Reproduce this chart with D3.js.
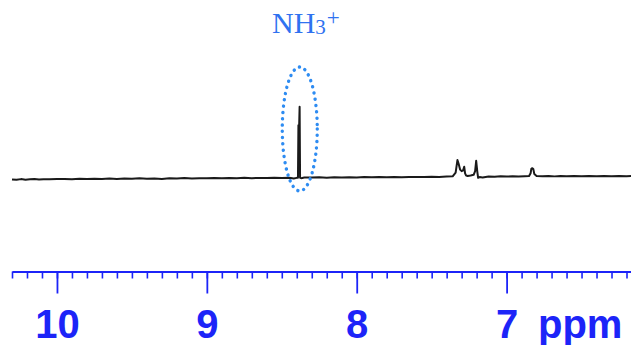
<!DOCTYPE html>
<html>
<head>
<meta charset="utf-8">
<script src="https://cdn.jsdelivr.net/npm/d3@7"></script>
<style>
  body { margin: 0; background: #fff; }
  svg { display: block; }
</style>
</head>
<body>
<div id="chart"></div>
<script>
// spectrum: [ppm, intensity]
const spectrum = [
  [10.30, 0.8], [10.27, 0.2], [10.24, 1.2], [10.21, 0.4], [10.18, 1.0], [10.15, 1.4],
  [10.12, 0.6], [10.09, 1.1], [10.05, 0.9], [10.00, 1.3], [9.95, 1.5], [9.90, 1.0],
  [9.85, 1.6], [9.80, 1.2], [9.75, 1.8], [9.70, 1.4], [9.65, 1.9], [9.60, 1.5],
  [9.55, 2.0], [9.50, 1.6], [9.45, 2.2], [9.40, 1.7], [9.35, 2.1], [9.30, 1.5],
  [9.25, 2.3], [9.20, 2.0], [9.15, 2.6], [9.10, 2.1], [9.05, 2.5], [9.00, 2.2],
  [8.95, 2.8], [8.90, 2.3], [8.85, 2.7], [8.80, 2.4], [8.75, 2.9], [8.70, 2.5],
  [8.65, 2.8], [8.60, 2.6], [8.55, 3.0], [8.50, 2.7], [8.45, 3.1], [8.42, 2.0],
  [8.40, 2.9], [8.392, 3.0], [8.389, 74], [8.384, 74], [8.381, 99], [8.378, 3.0],
  [8.37, 2.5], [8.35, 3.4], [8.30, 3.3], [8.25, 3.6], [8.20, 3.2], [8.15, 3.7],
  [8.10, 3.4], [8.05, 3.8], [8.00, 3.5], [7.95, 3.9], [7.90, 3.6], [7.85, 4.0],
  [7.80, 3.7], [7.75, 4.1], [7.70, 3.8], [7.65, 4.2], [7.60, 3.9], [7.55, 4.0],
  [7.50, 4.3], [7.45, 4.1], [7.40, 4.6], [7.36, 4.9], [7.34, 10], [7.328, 27],
  [7.320, 22], [7.310, 14], [7.300, 12], [7.290, 13], [7.283, 18], [7.277, 9],
  [7.27, 6], [7.26, 5.5], [7.24, 6], [7.22, 7], [7.210, 12], [7.203, 26],
  [7.196, 12], [7.190, 3], [7.18, 4], [7.16, 3.5], [7.12, 4.8], [7.08, 4.5],
  [7.04, 5.0], [7.00, 4.6], [6.96, 5.0], [6.92, 4.7], [6.88, 5.1], [6.85, 5.3],
  [6.840, 9], [6.835, 15], [6.828, 16], [6.822, 15], [6.815, 8], [6.80, 5.5],
  [6.76, 5.0], [6.72, 5.4], [6.68, 4.9], [6.64, 5.3], [6.60, 5.0], [6.55, 5.4],
  [6.50, 5.1], [6.45, 5.5], [6.40, 5.0], [6.35, 5.4], [6.30, 5.1], [6.25, 5.5],
  [6.20, 5.2], [6.17, 5.4]
];

const majorTicks = [10, 9, 8, 7];
const axisUnit = "ppm";
const annotatedPeak = 8.38;   // NH3+ signal

const size = { width: 631, height: 345 };
const axisY = 271.5;
const blue = "#1c24f8";

const svg = d3.select("#chart")
  .append("svg")
  .attr("width", size.width)
  .attr("height", size.height);

// reversed ppm axis, 150 px per ppm
const x = d3.scaleLinear().domain([10.3, 6.17]).range([12, 631]);
const y = d3.scaleLinear().domain([0, 100]).range([180, 106]);

const line = d3.line()
  .x(d => x(d[0]))
  .y(d => y(d[1]));

svg.append("path")
  .datum(spectrum)
  .attr("fill", "none")
  .attr("stroke", "#1a1a1a")
  .attr("stroke-width", 2)
  .attr("stroke-linejoin", "round")
  .attr("d", line);

// dotted ellipse around the NH3+ peak
svg.append("ellipse")
  .attr("cx", x(annotatedPeak))
  .attr("cy", 129)
  .attr("rx", 17.5)
  .attr("ry", 62)
  .attr("fill", "none")
  .attr("stroke", "#2e8cf2")
  .attr("stroke-width", 3.4)
  .attr("stroke-linecap", "round")
  .attr("stroke-dasharray", "0.1 6.2");

const label = svg.append("text")
  .attr("x", 272)
  .attr("y", 33)
  .attr("fill", "#2f72f0")
  .attr("font-family", "'Liberation Serif', 'Times New Roman', serif")
  .attr("font-size", 30);
label.append("tspan").text("NH");
label.append("tspan").attr("font-size", 21).attr("dy", 1).text("3");
label.append("tspan").attr("font-size", 23).attr("dy", -9).attr("dx", 1).text("+");

// minor ticks every 0.1 ppm
svg.append("g")
  .attr("transform", `translate(0, ${axisY})`)
  .call(d3.axisBottom(x).ticks(40).tickSize(7).tickSizeOuter(0).tickFormat(""))
  .call(g => g.selectAll("line").attr("stroke", blue).attr("stroke-width", 1.6))
  .call(g => g.select(".domain").attr("stroke", blue).attr("stroke-width", 2.2));

// major ticks with labels
svg.append("g")
  .attr("transform", `translate(0, ${axisY})`)
  .call(d3.axisBottom(x).tickValues(majorTicks).tickSize(22).tickSizeOuter(0).tickFormat(d3.format("d")))
  .call(g => g.select(".domain").remove())
  .call(g => g.selectAll("line").attr("stroke", blue).attr("stroke-width", 1.8))
  .call(g => g.selectAll("text")
    .attr("y", 66)
    .attr("dy", 0)
    .attr("fill", blue)
    .attr("font-family", "'Liberation Sans', Arial, sans-serif")
    .attr("font-weight", "bold")
    .attr("font-size", 40));

svg.append("text")
  .attr("x", 538)
  .attr("y", axisY + 66)
  .attr("fill", blue)
  .attr("font-family", "'Liberation Sans', Arial, sans-serif")
  .attr("font-weight", "bold")
  .attr("font-size", 40)
  .text(axisUnit);
</script>
</body>
</html>
